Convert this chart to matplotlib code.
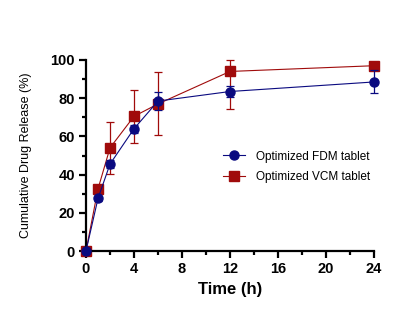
import matplotlib
matplotlib.use("Agg")
import matplotlib.pyplot as plt
from matplotlib.ticker import MultipleLocator

plt.rcParams['font.family'] = ['Liberation Sans', 'DejaVu Sans']

time_h = [0, 1, 2, 4, 6, 12, 24]
fdm_release = [0, 27.5, 45.5, 64, 78.5, 83.5, 88.5]
fdm_err_low = [0, 1.5, 2, 2, 4.5, 3, 6]
fdm_err_high = [0, 1.5, 2, 2, 4.5, 3, 6]
vcm_release = [0, 32.5, 54, 70.5, 77, 94, 97]
vcm_err_low = [0, 1.5, 13.5, 14, 16.5, 19.5, 1.5]
vcm_err_high = [0, 1.5, 13.5, 14, 16.5, 6, 1.5]

fdm_color = '#0a0a80'
vcm_color = '#a00b0b'

fig = plt.figure(figsize=(4, 3.26), dpi=100)
ax = fig.add_axes([0.215, 0.23, 0.72, 0.586])

ax.errorbar(time_h, fdm_release, yerr=[fdm_err_low, fdm_err_high], color=fdm_color, marker='o', ms=6.5,
            lw=0.8, elinewidth=0.9, capsize=3, capthick=0.9, clip_on=False, zorder=3,
            label='Optimized FDM tablet')
ax.errorbar(time_h, vcm_release, yerr=[vcm_err_low, vcm_err_high], color=vcm_color, marker='s', ms=6.5,
            lw=0.8, elinewidth=0.9, capsize=3, capthick=0.9, clip_on=False, zorder=2,
            label='Optimized VCM tablet')

ax.set_xlim(0, 24)
ax.set_ylim(0, 100)
ax.xaxis.set_major_locator(MultipleLocator(4))
ax.xaxis.set_minor_locator(MultipleLocator(2))
ax.yaxis.set_major_locator(MultipleLocator(20))
ax.yaxis.set_minor_locator(MultipleLocator(10))
for s in ['top', 'right']:
    ax.spines[s].set_visible(False)
for s in ['left', 'bottom']:
    ax.spines[s].set_linewidth(1.6)
ax.tick_params(which='major', length=5, width=1.6, labelsize=10.5, pad=3)
ax.tick_params(which='minor', length=3, width=1.6)
for lab in ax.get_xticklabels() + ax.get_yticklabels():
    lab.set_fontweight('bold')

ax.set_xlabel('Time (h)', fontsize=12, fontweight='bold', labelpad=4)
ax.set_ylabel('Cumulative Drug Release (%)', fontsize=9, labelpad=13)

handles, labels = ax.get_legend_handles_labels()
handles = [h[0] for h in handles]
ax.legend(handles, labels, loc='center left', bbox_to_anchor=(0.44, 0.44),
          frameon=False, fontsize=8.5, handlelength=1.8, handletextpad=1.0,
          labelspacing=0.75)

fig.savefig('out.png', dpi=100)
